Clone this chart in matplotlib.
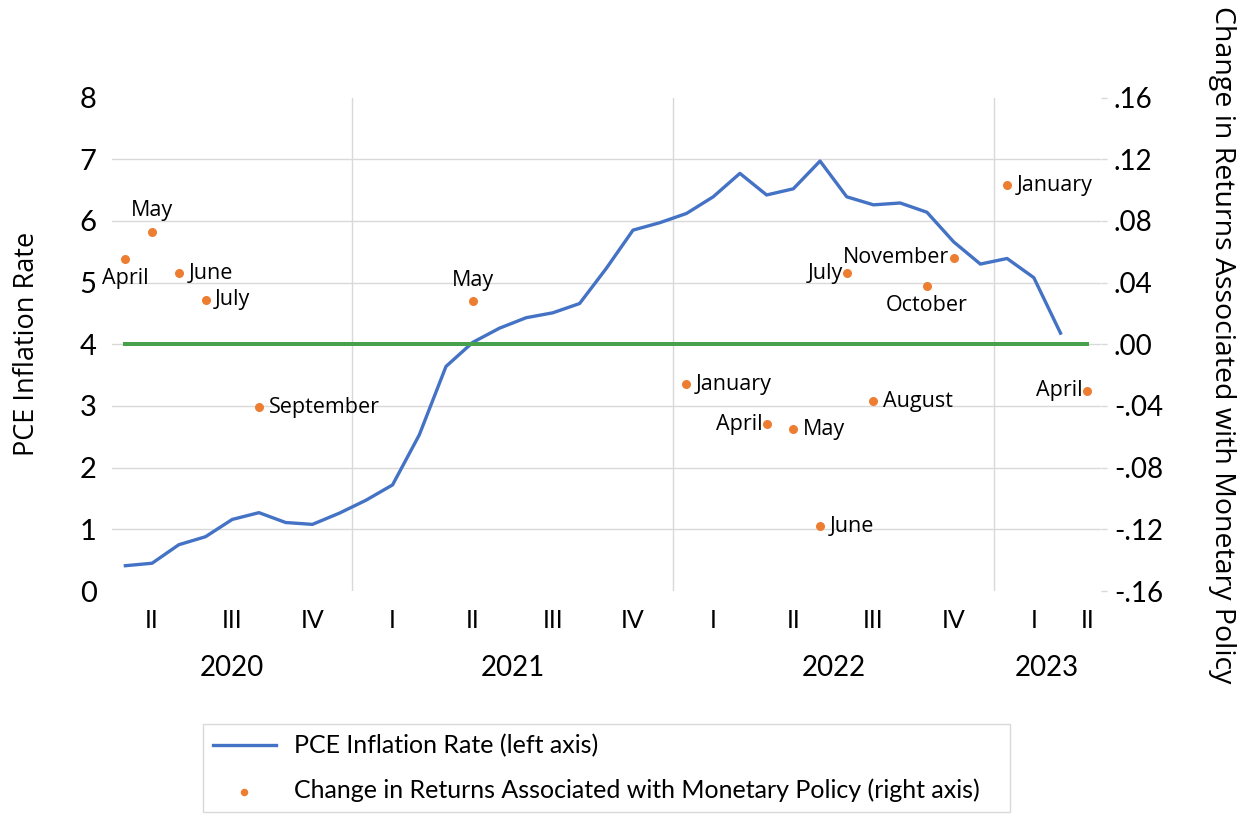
import numpy as np
import pandas as pd
import matplotlib
matplotlib.use("Agg")
import matplotlib.pyplot as plt
from matplotlib.ticker import FuncFormatter

# monthly categories, April 2020 .. April 2023
months = pd.period_range("2020-04", "2023-04", freq="M")

# PCE inflation rate (left axis), April 2020 .. March 2023
pce_rate = [0.41, 0.45, 0.75, 0.88, 1.16, 1.27, 1.11, 1.08, 1.26,
            1.47, 1.72, 2.53, 3.64, 4.03, 4.26, 4.43, 4.51, 4.66, 5.23, 5.85, 5.97,
            6.12, 6.39, 6.77, 6.42, 6.52, 6.97, 6.39, 6.26, 6.29, 6.14, 5.66, 5.30,
            5.39, 5.08, 4.18]

# change in returns associated with monetary policy (right axis)
event_months = ["2020-04", "2020-05", "2020-06", "2020-07", "2020-09", "2021-05",
                "2022-01", "2022-04", "2022-05", "2022-06", "2022-07", "2022-08",
                "2022-10", "2022-11", "2023-01", "2023-04"]
event_names = ["April", "May", "June", "July", "September", "May",
               "January", "April", "May", "June", "July", "August",
               "October", "November", "January", "April"]
event_returns = [0.055, 0.073, 0.046, 0.029, -0.041, 0.028,
                 -0.026, -0.052, -0.055, -0.118, 0.046, -0.037,
                 0.038, 0.056, 0.103, -0.030]

# where each point label sits
label_side = ["below", "above", "right", "right", "right", "above",
              "right", "left", "right", "right", "left", "right",
              "below", "left", "right", "left"]

plt.rcParams['font.family'] = ['Lato', 'DejaVu Sans']
blue = '#4472C4'
orange = '#ED7D31'
green = '#47A04B'
grid_c = '#d9d9d9'

fig = plt.figure(figsize=(12.51, 8.15), dpi=100)
ax = fig.add_axes([112 / 1251, 1 - 591 / 815, 988.6 / 1251, 493.5 / 815])
ax2 = ax.twinx()

x = np.arange(len(months))

# left axis: PCE line
line, = ax.plot(x[:len(pce_rate)], pce_rate, color=blue, lw=2.4)
ax.set_xlim(-0.5, len(months) - 0.5)
ax.set_ylim(0, 8)
ax.set_yticks(range(9))
ax.tick_params(axis='y', length=0, pad=11, labelsize=21)
ax.set_xticks([])
ax.grid(axis='y', color=grid_c, lw=1)
gl = ax.get_ygridlines()
gl[0].set_visible(False)
gl[-1].set_visible(False)

# year boundaries
years = np.array([p.year for p in months])
for i in range(1, len(months)):
    if years[i] != years[i - 1]:
        ax.axvline(i - 0.5, color=grid_c, lw=1, zorder=0)

# right axis: zero line and events
ax2.plot(x, np.zeros(len(months)), color=green, lw=2.9)
ev_x = [months.get_loc(pd.Period(m, freq="M")) for m in event_months]
scat = ax2.scatter(ev_x, event_returns, s=30, color=orange, zorder=3)
ax2.set_ylim(-0.16, 0.16)
ax2.set_yticks(np.arange(-0.16, 0.161, 0.04))
ax2.yaxis.set_major_formatter(FuncFormatter(lambda v, p: f"{v:.2f}".replace("0.", ".")))
ax2.tick_params(axis='y', length=4.5, width=1, color=grid_c, pad=5, labelsize=20)

offsets = {"right": ((7, 0), "left"),
           "left": ((-3, 0), "right"),
           "above": ((0, 15), "center"),
           "below": ((0, -14), "center")}
for xi, yi, name, side in zip(ev_x, event_returns, event_names, label_side):
    off, ha = offsets[side]
    ax2.annotate(name, (xi, yi), xytext=off, textcoords='offset points',
                 ha=ha, va='center', fontsize=15.5, family=['Open Sans', 'DejaVu Sans'])

for a in (ax, ax2):
    for s in a.spines.values():
        s.set_visible(False)

# two-level category labels: quarters and years
roman = {1: "I", 2: "II", 3: "III", 4: "IV"}
quarters = np.array([f"{p.year}Q{p.quarter}" for p in months])
for q in dict.fromkeys(quarters):
    idx = np.where(quarters == q)[0]
    ax.text(idx.mean(), -0.0588, roman[int(q[-1])], transform=ax.get_xaxis_transform(),
            ha='center', va='center', fontsize=18)
for yr in dict.fromkeys(years):
    idx = np.where(years == yr)[0]
    ax.text(idx.mean(), -0.156, str(yr), transform=ax.get_xaxis_transform(),
            ha='center', va='center', fontsize=20)

ax.set_ylabel("PCE Inflation Rate", fontsize=19.5, family=['Open Sans', 'DejaVu Sans'],
              ha='center', va='center')
ax.yaxis.set_label_coords(-0.086, 0.5)
ax2.set_ylabel("Change in Returns Associated with Monetary Policy", fontsize=20.5,
               family=['Open Sans', 'DejaVu Sans'], rotation=-90, ha='center', va='center')
ax2.yaxis.set_label_coords(1.1228, 0.5)

leg = fig.legend([line, scat],
                 ["PCE Inflation Rate (left axis)",
                  "Change in Returns Associated with Monetary Policy (right axis)"],
                 loc='upper left', mode='expand',
                 bbox_to_anchor=(203 / 1251, 1 - 813 / 815, 807 / 1251, 89 / 815),
                 prop={'family': ['Lato', 'DejaVu Sans'], 'size': 18},
                 handlelength=2.5, handletextpad=0.75, labelspacing=0.85,
                 borderpad=0.4, borderaxespad=0, fancybox=False, framealpha=1,
                 edgecolor=grid_c, scatterpoints=1, markerscale=0.8)
leg.get_frame().set_linewidth(1)

fig.savefig("out.png", dpi=100)
